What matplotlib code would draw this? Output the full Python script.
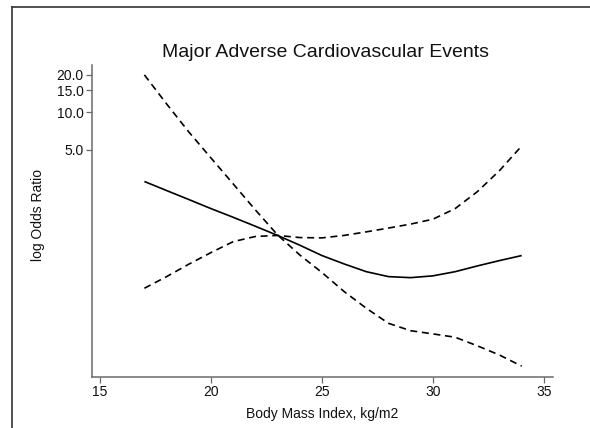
import matplotlib
matplotlib.use("Agg")
import matplotlib.pyplot as plt
from matplotlib.lines import Line2D

# BMI grid and odds ratios (reference BMI = 23)
bmi = [17, 18, 19, 20, 21, 22, 23, 24, 25, 26, 27, 28, 29, 30, 31, 32, 33, 34]
odds_ratio = [2.79, 2.36, 2.00, 1.69, 1.44, 1.22, 1.03, 0.86, 0.71,
              0.608, 0.527, 0.481, 0.472, 0.488, 0.527, 0.586, 0.647, 0.71]
ci_upper_from_low = [0.388, 0.481, 0.605, 0.750, 0.918, 1.01, 1.03, 0.99, 0.984,
                     1.03, 1.10, 1.18, 1.27, 1.39, 1.69, 2.31, 3.41, 5.38]
ci_from_high = [20.0, 11.7, 6.97, 4.31, 2.67, 1.65, 1.04, 0.718, 0.519,
                0.365, 0.268, 0.203, 0.177, 0.167, 0.157, 0.134, 0.113, 0.092]

x_ticks = [15, 20, 25, 30, 35]
y_ticks = [5.0, 10.0, 15.0, 20.0]

plt.rcParams['font.family'] = ['Liberation Sans', 'DejaVu Sans']

fig = plt.figure(figsize=(5.9, 4.28), dpi=100, facecolor='white')
ax = fig.add_axes([92 / 590, 1 - 377 / 428, 461 / 590, 312 / 428])

ax.plot(bmi, odds_ratio, color='black', lw=1.2, solid_capstyle='butt')
ax.plot(bmi, ci_upper_from_low, color='black', lw=1.2, dashes=(4.2, 2.8))
ax.plot(bmi, ci_from_high, color='black', lw=1.2, dashes=(4.2, 2.8))

ax.set_yscale('log')
ax.set_xlim(14.64, 35.41)
ax.set_ylim(0.0753, 24.0)
ax.set_xticks(x_ticks)
ax.set_xticklabels([str(t) for t in x_ticks])
ax.set_yticks(y_ticks)
ax.set_yticklabels([f"{t:.1f}" for t in y_ticks])
ax.minorticks_off()

for side in ['top', 'right']:
    ax.spines[side].set_visible(False)
for side in ['left', 'bottom']:
    ax.spines[side].set_color('#6a6a6a')
    ax.spines[side].set_linewidth(1.1)
ax.tick_params(axis='both', direction='out', length=4, width=0.9, color='#6a6a6a',
               labelsize=10, pad=2, labelcolor='#111111')

ax.set_xlabel('Body Mass Index, kg/m2', fontsize=10, color='#111111')
ax.xaxis.set_label_coords(0.499, -0.096)
ax.set_ylabel('log Odds Ratio', fontsize=10, color='#111111')
ax.yaxis.set_label_coords(-0.102, 0.52)

fig.text(326 / 590, 1 - 57 / 428, 'Major Adverse Cardiovascular Events',
         ha='center', va='baseline', fontsize=14, color='#111111')

# outer frame (top and left edges)
fig.add_artist(Line2D([12 / 590, 1.0], [1 - 7 / 428, 1 - 7 / 428],
                      transform=fig.transFigure, color='#333333', lw=1.2))
fig.add_artist(Line2D([12 / 590, 12 / 590], [0.0, 1 - 7 / 428],
                      transform=fig.transFigure, color='#333333', lw=1.2))

fig.savefig('out.png', dpi=100, facecolor='white')
